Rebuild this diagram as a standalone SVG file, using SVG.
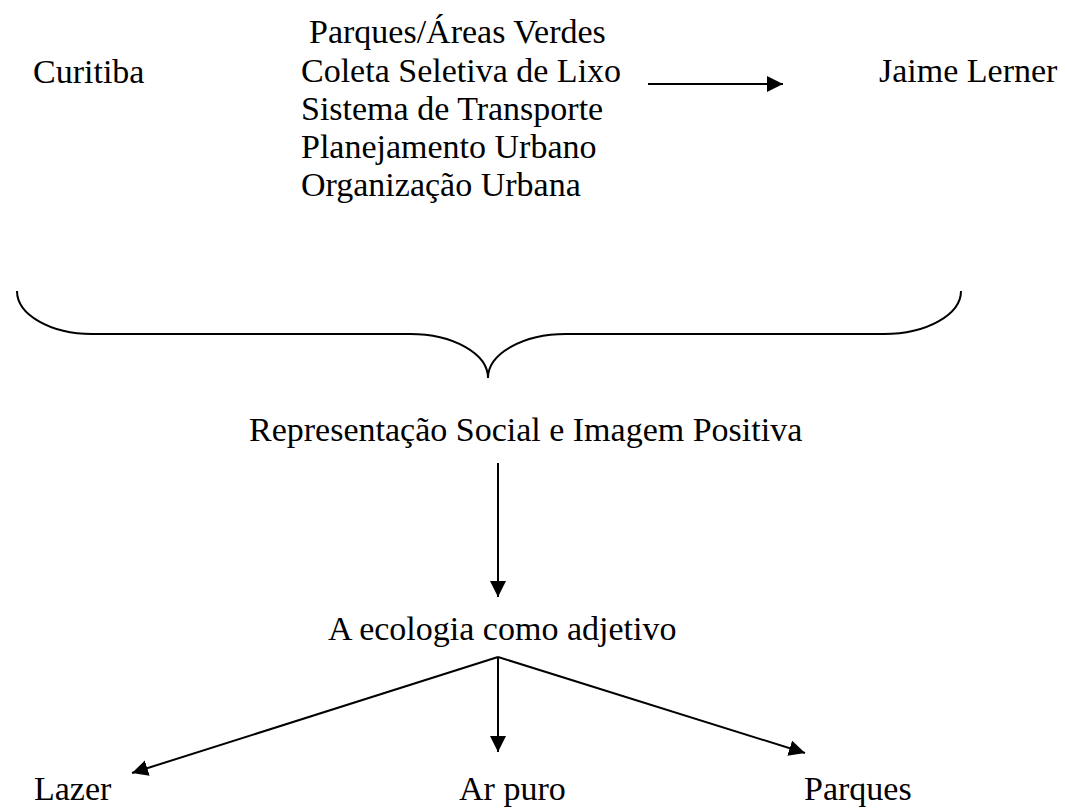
<svg xmlns="http://www.w3.org/2000/svg" width="1065" height="809" viewBox="0 0 1065 809">
<style>
.t { font-family: 'Liberation Serif', 'Times New Roman', 'DejaVu Serif', serif; font-size: 34px; fill: #000; }
.ln { stroke: #000; stroke-width: 2; fill: none; }
</style>
<defs>
<marker id="ah" markerUnits="userSpaceOnUse" markerWidth="17" markerHeight="17" refX="16" refY="8" orient="auto">
<path d="M0,0 L16,8 L0,16 z" fill="#000"/>
</marker>
</defs>
<rect width="1065" height="809" fill="#fff"/>
<g id="curitiba"><text class="t" font-family="Liberation Serif, serif" x="33" y="83">Curitiba</text></g>
<g id="lista" font-family="Liberation Serif, serif">
<text class="t" x="309" y="43">Parques/Áreas Verdes</text>
<text class="t" x="301" y="82">Coleta Seletiva de Lixo</text>
<text class="t" x="301" y="120">Sistema de Transporte</text>
<text class="t" x="301" y="158">Planejamento Urbano</text>
<text class="t" x="301" y="196">Organização Urbana</text>
</g>
<g id="jaime"><text class="t" x="879" y="82">Jaime Lerner</text></g>
<g id="chave"><path class="ln" d="M17,291 A75 43 0 0 0 92 334 L410,334 A78 44 0 0 1 488 378 A78 44 0 0 1 566 334 L884,334 A77 43 0 0 0 961 291"/></g>
<g id="representacao"><text class="t" x="249" y="441">Representação Social e Imagem Positiva</text></g>
<g id="ecologia"><text class="t" x="328" y="640">A ecologia como adjetivo</text></g>
<g id="lazer"><text class="t" x="34" y="800">Lazer</text></g>
<g id="arpuro"><text class="t" x="459" y="800">Ar puro</text></g>
<g id="parques"><text class="t" x="804" y="800">Parques</text></g>
<g id="connectors">
<line class="ln" x1="648" y1="84" x2="783" y2="84" marker-end="url(#ah)"/>
<line class="ln" x1="498" y1="463" x2="498" y2="597" marker-end="url(#ah)"/>
<line class="ln" x1="498" y1="657" x2="498" y2="752" marker-end="url(#ah)"/>
<line class="ln" x1="498" y1="657" x2="132" y2="773" marker-end="url(#ah)"/>
<line class="ln" x1="498" y1="657" x2="805" y2="753" marker-end="url(#ah)"/>
</g>
</svg>
